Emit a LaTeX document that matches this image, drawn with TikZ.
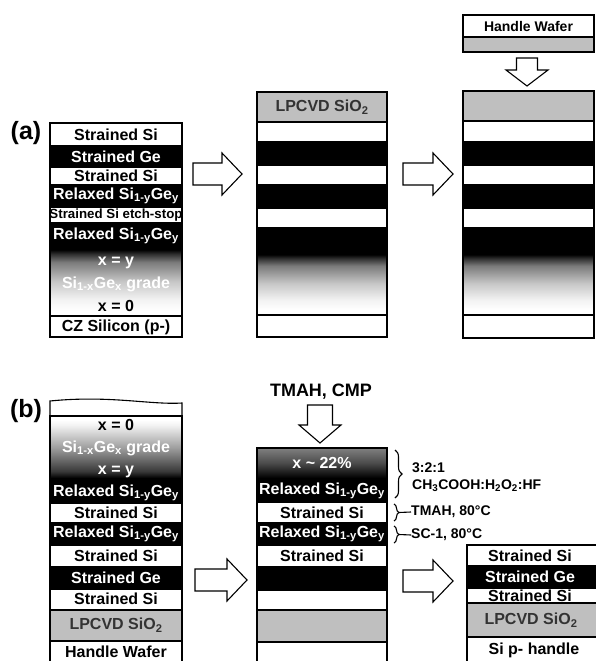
\documentclass[tikz,border=0pt]{standalone}
\usepackage{fontspec}
\setmainfont{Liberation Sans}
\usetikzlibrary{decorations.pathreplacing}
\pgfdeclareverticalshading{gradA}{100bp}{color(0bp)=(white); color(29bp)=(white); color(37bp)=(black!5); color(50bp)=(black!22); color(64bp)=(black!52); color(70bp)=(black!82); color(73bp)=(black); color(100bp)=(black)}
\pgfdeclareverticalshading{gradB}{100bp}{color(0bp)=(black); color(28bp)=(black); color(33bp)=(black!78); color(51bp)=(black!38); color(68bp)=(black!5); color(72bp)=(white); color(100bp)=(white)}
\pgfdeclareverticalshading{gradC}{100bp}{color(0bp)=(black); color(28bp)=(black); color(52bp)=(black!70); color(75bp)=(black!50); color(100bp)=(black!50)}
\newcommand\RSG{Relaxed Si\textsubscript{1-y}Ge\textsubscript{y}}
\newcommand\SGG{Si\textsubscript{1-x}Ge\textsubscript{x} grade}
\newcommand\LPC{LPCVD SiO\textsubscript{2}}
\begin{document}
\begin{tikzpicture}[x=1pt,y=-1pt,
  lay/.style={draw=black,line width=1.1pt},
  wl/.style={lay,fill=white},
  bl/.style={lay,fill=black},
  gl/.style={lay,fill=black!25},
  txt/.style={inner sep=0pt,font=\fontsize{16}{17}\selectfont\bfseries},
  wt/.style={txt,text=white},
  bt/.style={txt,text=black},
  gt/.style={txt,text=black!80},
  blockarrow/.style={draw=black,line width=1.1pt,fill=white,line join=miter},
  lbl/.style={inner sep=0pt,font=\fontsize{25}{26}\selectfont\bfseries},
  note/.style={inner sep=0pt,anchor=west,font=\fontsize{14}{15}\selectfont\bfseries},
  brace1/.style={decorate,decoration={brace,amplitude=#1},line width=1.1pt}]
\useasboundingbox (0,0) rectangle (596,661);
\fill[white] (0,0) rectangle (596,661);

% ---------------- (a) ----------------
\node[lbl] (la) at (26,133) {(a)};
% left stack
\path[wl] (50,123) rectangle (182,146);
\path[bl] (50,146) rectangle (182,167);
\path[wl] (50,167) rectangle (182,185);
\path[bl] (50,185) rectangle (182,207);
\path[wl] (50,207) rectangle (182,223);
\path[bl] (50,223) rectangle (182,247);
\path[lay,shading=gradA] (50,247) rectangle (182,316);
\path[wl] (50,316) rectangle (182,337);
\node[bt] (a1) at (116,134.5) {Strained Si};
\node[wt] (a2) at (116,156.5) {Strained Ge};
\node[bt] (a3) at (116,176) {Strained Si};
\node[wt] (a4) at (116,196) {\RSG};
\node[bt,font=\fontsize{13.3}{14}\selectfont\bfseries] (a5) at (116,215) {Strained Si etch-stop};
\node[wt] (a6) at (116,236) {\RSG};
\node[wt] (a7) at (116,263) {x = y};
\node[txt,text=white] (a8) at (116,284) {\SGG};
\node[bt] (a9) at (116,306) {x = 0};
\node[bt] (a10) at (116,327) {CZ Silicon (p-)};

% arrow 1
\coordinate (ra1) at (193,174);
\draw[blockarrow] (ra1) ++(0,-11) -- ++(29,0) -- ++(0,-10) -- ++(20,21) -- ++(-20,21) -- ++(0,-10) -- ++(-29,0) -- cycle;

% middle stack
\path[gl] (257,92) rectangle (387,122);
\path[wl] (257,122) rectangle (387,142);
\path[bl] (257,142) rectangle (387,165);
\path[wl] (257,165) rectangle (387,185);
\path[bl] (257,185) rectangle (387,208);
\path[wl] (257,208) rectangle (387,228);
\path[bl] (257,228) rectangle (387,252);
\path[lay,shading=gradA] (257,252) rectangle (387,315);
\path[wl] (257,315) rectangle (387,337);
\node[gt] (m1) at (322,107) {\LPC};

% arrow 2
\coordinate (ra2) at (403,174);
\draw[blockarrow] (ra2) ++(0,-11) -- ++(30,0) -- ++(0,-10) -- ++(20,21) -- ++(-20,21) -- ++(0,-10) -- ++(-30,0) -- cycle;

% right stack
\path[wl] (463,15) rectangle (594,37);
\path[gl] (463,37) rectangle (594,52);
\node[bt,font=\fontsize{14}{15}\selectfont\bfseries] (h1) at (528.5,26) {Handle Wafer};
\coordinate (da1) at (527,58);
\draw[blockarrow] (da1) ++(-10.5,0) -- ++(0,12) -- ++(-10.5,0) -- ++(21,16) -- ++(21,-16) -- ++(-10.5,0) -- ++(0,-12) -- cycle;
\path[gl] (463,91) rectangle (594,121);
\path[wl] (463,121) rectangle (594,142);
\path[bl] (463,142) rectangle (594,165);
\path[wl] (463,165) rectangle (594,185);
\path[bl] (463,185) rectangle (594,208);
\path[wl] (463,208) rectangle (594,228);
\path[bl] (463,228) rectangle (594,252);
\path[lay,shading=gradA] (463,252) rectangle (594,315);
\path[wl] (463,315) rectangle (594,338);

% ---------------- (b) ----------------
\node[lbl] (lb) at (26,411) {(b)};
% left stack
\path[wl] (50,401) .. controls (110,395) and (150,405) .. (182,403) -- (182,416) -- (50,416) -- cycle;
\path[lay,shading=gradB] (50,416) rectangle (182,482);
\path[bl] (50,482) rectangle (182,503);
\path[wl] (50,503) rectangle (182,523);
\path[bl] (50,523) rectangle (182,545);
\path[wl] (50,545) rectangle (182,567);
\path[bl] (50,567) rectangle (182,589);
\path[wl] (50,589) rectangle (182,610);
\path[gl] (50,610) rectangle (182,641);
\path[wl] (50,641) rectangle (182,670);
\node[bt] (b1) at (116,425) {x = 0};
\node[wt] (b2) at (116,448) {\SGG};
\node[wt] (b3) at (116,472) {x = y};
\node[wt] (b4) at (116,493) {\RSG};
\node[bt] (b5) at (116,513) {Strained Si};
\node[wt] (b6) at (116,534) {\RSG};
\node[bt] (b7) at (116,556) {Strained Si};
\node[wt] (b8) at (116,578) {Strained Ge};
\node[bt] (b9) at (116,599) {Strained Si};
\node[gt] (b10) at (116,625) {\LPC};
\node[bt] (b11) at (116,652) {Handle Wafer};

% arrow 3
\coordinate (rb1) at (195,580);
\draw[blockarrow] (rb1) ++(0,-11) -- ++(32,0) -- ++(0,-10) -- ++(20,21) -- ++(-20,21) -- ++(0,-10) -- ++(-32,0) -- cycle;

% middle stack
\node[txt,font=\fontsize{18}{19}\selectfont\bfseries] (tm) at (321,392) {TMAH, CMP};
\coordinate (da2) at (320,405);
\draw[blockarrow] (da2) ++(-12.5,0) -- ++(0,20) -- ++(-8.5,0) -- ++(21,18) -- ++(21,-18) -- ++(-8.5,0) -- ++(0,-20) -- cycle;
\path[lay,shading=gradC] (257,448) rectangle (387,480);
\path[bl] (257,480) rectangle (387,502);
\path[wl] (257,502) rectangle (387,523);
\path[bl] (257,523) rectangle (387,545);
\path[wl] (257,545) rectangle (387,567);
\path[bl] (257,567) rectangle (387,590);
\path[wl] (257,590) rectangle (387,610);
\path[gl] (257,610) rectangle (387,642);
\path[wl] (257,642) rectangle (387,670);
\node[wt] (c1) at (322,463) {x \textasciitilde{} 22\%};
\node[wt] (c2) at (322,491) {\RSG};
\node[bt] (c3) at (322,512.5) {Strained Si};
\node[wt] (c4) at (322,534) {\RSG};
\node[bt] (c5) at (322,556) {Strained Si};

% brackets and notes
\draw[brace1=7pt] (395,450) -- (395,498);
\node[note] (n1) at (412,468) {3:2:1};
\node[note] (n2) at (412,486) {CH\textsubscript{3}COOH:H\textsubscript{2}O\textsubscript{2}:HF};
\draw[brace1=5pt] (394,504) -- (394,521);
\node[note] (n3) at (411,512) {TMAH, 80°C};
\draw[line width=1.1pt] (399,512.5) -- (n3.west);
\draw[brace1=5pt] (394,526) -- (394,543);
\node[note] (n4) at (411,535) {SC-1, 80°C};
\draw[line width=1.1pt] (399,534.5) -- (n4.west);

% arrow 4
\coordinate (rb2) at (403,581);
\draw[blockarrow] (rb2) ++(0,-11) -- ++(30,0) -- ++(0,-10) -- ++(20,21) -- ++(-20,21) -- ++(0,-10) -- ++(-30,0) -- cycle;

% right stack
\path[wl] (467,545) rectangle (602,566);
\path[bl] (467,566) rectangle (602,588);
\path[wl] (467,588) rectangle (602,603);
\path[gl] (467,603) rectangle (602,637);
\path[wl] (467,637) rectangle (602,670);
\node[bt] (d1) at (530,555.5) {Strained Si};
\node[wt] (d2) at (530,577) {Strained Ge};
\node[bt] (d3) at (530,596) {Strained Si};
\node[gt] (d4) at (531,620) {\LPC};
\node[bt] (d5) at (534,650) {Si p- handle};
\end{tikzpicture}
\end{document}
